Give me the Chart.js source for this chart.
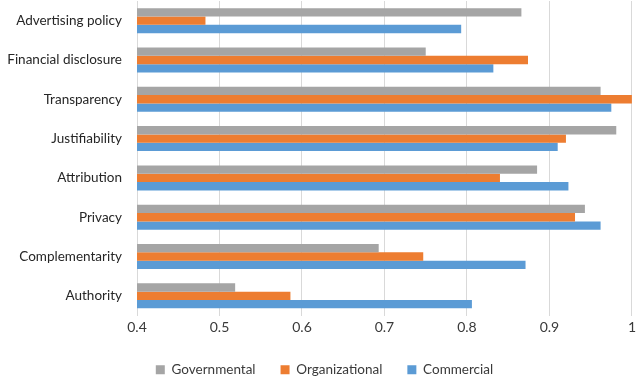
<!DOCTYPE html>
<html>
<head>
  <meta charset="utf-8" />
  <script src="https://cdn.jsdelivr.net/npm/chart.js@4.4.1/dist/chart.umd.min.js"></script>
  <style>
    body { margin: 0; background: #fff; }
    #wrap { width: 640px; height: 378px; position: relative; }
  </style>
</head>
<body>
<div id="wrap"><canvas id="chart"></canvas></div>
<script>
/* ---------- Data ---------- */
const categories = ['Advertising policy', 'Financial disclosure', 'Transparency', 'Justifiability',
                    'Attribution', 'Privacy', 'Complementarity', 'Authority'];
const governmental   = [0.866, 0.750, 0.962, 0.981, 0.885, 0.943, 0.693, 0.519];
const organizational = [0.483, 0.874, 1.000, 0.920, 0.840, 0.931, 0.747, 0.586];
const commercial     = [0.793, 0.832, 0.975, 0.910, 0.923, 0.962, 0.871, 0.806];
const xTicks = ['0.4', '0.5', '0.6', '0.7', '0.8', '0.9', '1'];

const FONT = "Lato, 'Open Sans', sans-serif";
const TEXT = '#3a3a3a';

// nudge the legend a little right, like the original
const legendShift = {
  id: 'legendShift',
  afterLayout(chart) { chart.legend.left += 8; chart.legend.right += 8; }
};

new Chart(document.getElementById('chart'), {
  type: 'bar',
  data: {
    labels: categories,
    datasets: [
      { label: 'Governmental',   data: governmental,   backgroundColor: '#A5A5A5' },
      { label: 'Organizational', data: organizational, backgroundColor: '#ED7D31' },
      { label: 'Commercial',     data: commercial,     backgroundColor: '#5B9BD5' }
    ]
  },
  plugins: [legendShift],
  options: {
    indexAxis: 'y',
    responsive: true, maintainAspectRatio: false, animation: false,
    datasets: { bar: { barPercentage: 1, categoryPercentage: 0.635 } },
    layout: { padding: { top: 1, right: 7, left: 0, bottom: 0 } },
    plugins: {
      legend: {
        position: 'bottom',
        maxHeight: 40,
        labels: { color: TEXT, font: { family: FONT, size: 13.5 }, boxWidth: 9, boxHeight: 9, padding: 25 }
      },
      tooltip: { enabled: false }
    },
    scales: {
      x: {
        min: 0.4, max: 1,
        afterFit: s => { s.height = 22.5; },
        ticks: {
          stepSize: 0.1, color: TEXT, font: { family: FONT, size: 14 }, padding: 4,
          callback: (v, i) => xTicks[i]
        },
        grid: { color: '#d9d9d9', lineWidth: 1, drawTicks: false },
        border: { display: false }
      },
      y: {
        afterFit: s => { s.width = 137; s.paddingTop = 0; s.paddingBottom = 0; },
        ticks: { color: '#262626', font: { family: FONT, size: 13.5 }, padding: 15 },
        grid: { display: false, drawTicks: false },
        border: { color: '#d9d9d9' }
      }
    }
  }
});
</script>
</body>
</html>
